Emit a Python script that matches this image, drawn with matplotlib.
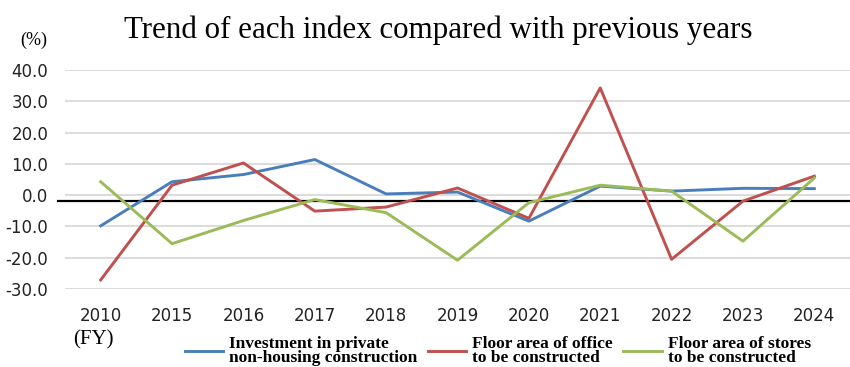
import numpy as np
import matplotlib.pyplot as plt

# data
years = ["2010", "2015", "2016", "2017", "2018", "2019", "2020", "2021", "2022", "2023", "2024"]
investment = [-9.8, 4.3, 6.6, 11.4, 0.4, 1.0, -8.3, 2.9, 1.3, 2.2, 2.1]
office = [-27.1, 3.2, 10.3, -5.1, -3.8, 2.3, -7.4, 34.3, -20.5, -1.9, 6.1]
stores = [4.3, -15.5, -8.1, -1.4, -5.6, -20.8, -2.4, 3.2, 1.3, -14.7, 5.5]
yticks = [40, 30, 20, 10, 0, -10, -20, -30]
labels = ["Investment in private\nnon-housing construction",
          "Floor area of office\nto be constructed",
          "Floor area of stores\nto be constructed"]

plt.rcParams['font.family'] = ['DejaVu Sans']

fig = plt.figure(figsize=(8.5, 3.67), dpi=100)
ax = fig.add_axes([0.0765, 0.2125, 0.9235, 0.5965])

x = np.arange(len(years))
ax.plot(x, investment, color="#4a7ebb", lw=2.1, label=labels[0])
ax.plot(x, office, color="#c0504d", lw=2.1, label=labels[1])
ax.plot(x, stores, color="#9bbb59", lw=2.1, label=labels[2])

# black base line (sits a bit below zero in the original)
ax.axhline(-1.7, xmin=-0.009, xmax=1.0, color="black", lw=1.6, clip_on=False, zorder=1)

ax.set_xlim(-0.5, 10.5)
ax.set_ylim(-30, 40)
ax.set_yticks(yticks)
ax.set_yticklabels([f"{v:.1f}" for v in yticks])
ax.set_xticks(x)
ax.set_xticklabels(years)
ax.grid(axis="y", color="#d9d9d9", lw=1.3)
ax.set_axisbelow(True)
for s in ax.spines.values():
    s.set_visible(False)
ax.tick_params(length=0, labelsize=12, colors="#222222")
ax.tick_params(axis="y", pad=12)
ax.tick_params(axis="x", pad=13)

fig.text(0.515, 0.918, "Trend of each index compared with previous years",
         family="Liberation Serif", fontsize=22.3, ha="center", va="center")
fig.text(0.024, 0.89, "(%)", family="Liberation Serif", fontsize=13, ha="left", va="center")
fig.text(0.086, 0.073, "(FY)", family="Liberation Serif", fontsize=15, ha="left", va="center")

leg = fig.legend(loc="center left", bbox_to_anchor=(185 / 850, 0.044), ncol=3, frameon=False,
                 prop={"family": "Liberation Serif", "weight": "bold", "size": 12.5},
                 handlelength=2.2, handletextpad=0.35, columnspacing=0.6,
                 borderpad=0, borderaxespad=0)
for t in leg.get_texts():
    t.set_linespacing(0.8)

fig.savefig("out.png", dpi=100)
